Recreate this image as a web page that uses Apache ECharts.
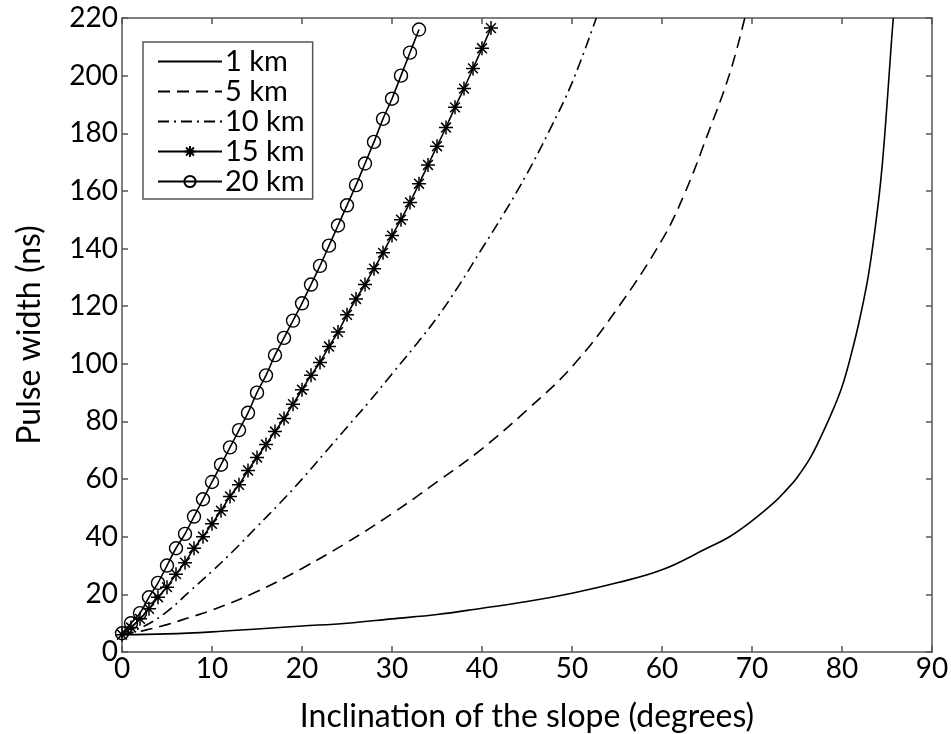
<!DOCTYPE html>
<html>
<head>
<meta charset="utf-8">
<title>Pulse width vs slope</title>
<script src="https://cdn.jsdelivr.net/npm/echarts@6/dist/echarts.min.js"></script>
<style>
  html, body { margin: 0; padding: 0; background: #fff; }
  #chart { width: 951px; height: 734px; }
</style>
</head>
<body>
<div id="chart"></div>
<script>
// data
const seriesNames = ['1 km', '5 km', '10 km', '15 km', '20 km'];

const km1X = [0, 5, 10, 15, 20, 25, 30, 35, 40, 45, 50, 55, 60, 65, 67.5, 70, 72.5, 73.75, 75, 76.5, 78, 79, 80, 81, 82, 83, 84, 84.5, 85, 85.5, 85.7];
const km1Y = [6, 6.3, 7, 8, 9, 10, 11.5, 13, 15.2, 17.5, 20.4, 24, 28.5, 36, 40, 45.5, 52, 56, 60.5, 67.5, 77, 84, 92, 103, 116, 132, 155, 170, 190, 212, 220];

const km5X = [0, 2.5, 5, 7.5, 10, 15, 20, 25, 30, 35, 40, 45, 50, 55, 60, 62.5, 65, 67.5, 69.2];
const km5Y = [6, 7.5, 9.5, 12, 14.5, 21, 29, 38, 48, 59, 70.5, 84, 99, 119, 143, 159, 179, 200.5, 220];

const km10X = [0, 2.5, 5, 7.5, 10, 12.5, 15, 17.5, 20, 22.5, 25, 27.5, 30, 32.5, 35, 37.5, 40, 42.5, 45, 47.5, 50, 52.7];
const km10Y = [6, 9, 14, 21, 28, 35.5, 43.5, 51.5, 60, 69, 78, 87, 96.5, 106, 116, 127.5, 140, 152.5, 166, 181, 197.5, 220];

// 15 km and 20 km are sampled every degree from 0
const km15Y = [6, 8.5, 11.5, 15, 19, 22.5, 27, 31, 36, 40,
  44.5, 49, 54, 58, 63, 67.5, 72, 76.5, 81, 86,
  91, 96, 100.5, 106, 111, 117, 122.5, 127.5, 133, 138.5,
  144.5, 150, 156, 162.5, 169, 175.5, 182, 189, 195.5, 202.5,
  209.5, 216.5];
const km20Y = [6.5, 10, 13.5, 19, 24, 30, 36, 41, 47, 53,
  59, 65, 71, 77, 83, 90, 96, 103, 109, 115,
  121, 127.5, 134, 141, 148, 155, 162, 169.5, 177, 185,
  192, 200, 208, 216];

const xTicks = [0, 10, 20, 30, 40, 50, 60, 70, 80, 90];
const yTicks = [0, 20, 40, 60, 80, 100, 120, 140, 160, 180, 200, 220];

const pairs = (xs, ys) => ys.map((v, i) => [xs[i], v]);
const stepPairs = (ys) => ys.map((v, i) => [i, v]);

const FONT = 'Lato';
const asterisk = 'path://M0,-6L0,6M-6,0L6,0M-4.2,-4.2L4.2,4.2M-4.2,4.2L4.2,-4.2';

const chart = echarts.init(document.getElementById('chart'));

const axisCommon = {
  type: 'value',
  axisLine: { show: true, onZero: false, lineStyle: { color: '#555', width: 1.5 } },
  axisTick: { show: true, inside: true, length: 6, lineStyle: { color: '#555', width: 1.5 } },
  splitLine: { show: false }
};

const plain = (name, data, type) => ({
  name, type: 'line', data,
  showSymbol: false, symbol: 'none',
  smooth: 0.4,
  lineStyle: { color: '#000', width: 1.6, type },
  itemStyle: { color: '#000' },
  z: 3
});

// line-only series get no marker in the legend
const legendData = seriesNames.map((n, i) =>
  i < 3 ? { name: n, itemStyle: { opacity: 0 } } : { name: n });

chart.setOption({
  backgroundColor: '#fff',
  animation: false,
  textStyle: { fontFamily: FONT },
  grid: { left: 122, right: 19, top: 18, bottom: 82, outerBoundsMode: 'none' },
  legend: {
    left: 143, top: 42,
    orient: 'vertical',
    data: legendData,
    itemWidth: 64, itemHeight: 14, itemGap: 1,
    padding: [5, 8, 3, 14],
    backgroundColor: '#fff',
    borderColor: '#555', borderWidth: 1.5, borderRadius: 0,
    textStyle: { fontFamily: FONT, fontSize: 29, color: '#000', lineHeight: 29, padding: [0, 0, 0, -2] }
  },
  xAxis: [
    Object.assign({}, axisCommon, {
      min: 0, max: 90, interval: 10,
      name: 'Inclination of the slope (degrees)',
      nameLocation: 'middle', nameGap: 49,
      nameTextStyle: { fontFamily: FONT, fontSize: 32, color: '#000' },
      axisLabel: {
        fontFamily: FONT, fontSize: 28, color: '#000', margin: 3,
        formatter: v => xTicks.includes(v) ? String(v) : ''
      }
    }),
    Object.assign({}, axisCommon, {
      position: 'top', min: 0, max: 90, interval: 10,
      axisLabel: { show: false }
    })
  ],
  yAxis: [
    Object.assign({}, axisCommon, {
      min: 0, max: 220, interval: 20,
      name: 'Pulse width (ns)',
      nameLocation: 'middle', nameGap: 76,
      nameTextStyle: { fontFamily: FONT, fontSize: 32, color: '#000' },
      axisLabel: {
        fontFamily: FONT, fontSize: 28, color: '#000', margin: 4,
        formatter: v => yTicks.includes(v) ? String(v) : ''
      }
    }),
    Object.assign({}, axisCommon, {
      position: 'right', min: 0, max: 220, interval: 20,
      axisLabel: { show: false }
    })
  ],
  series: [
    plain('1 km', pairs(km1X, km1Y), 'solid'),
    plain('5 km', pairs(km5X, km5Y), [12, 7]),
    plain('10 km', pairs(km10X, km10Y), [11, 5, 2, 5]),
    {
      name: '15 km', type: 'line', data: stepPairs(km15Y),
      smooth: 0.3,
      symbol: asterisk, symbolSize: 14, showAllSymbol: true,
      lineStyle: { color: '#000', width: 1.6 },
      itemStyle: { color: 'rgba(0,0,0,0)', borderColor: '#000', borderWidth: 1.5 },
      z: 4
    },
    {
      name: '20 km', type: 'line', data: stepPairs(km20Y),
      smooth: 0.3,
      symbol: 'circle', symbolSize: 13, showAllSymbol: true,
      lineStyle: { color: '#000', width: 1.6 },
      itemStyle: { color: 'rgba(0,0,0,0)', borderColor: '#000', borderWidth: 1.4 },
      z: 4
    }
  ]
});

window.addEventListener('resize', () => chart.resize());
</script>
</body>
</html>
